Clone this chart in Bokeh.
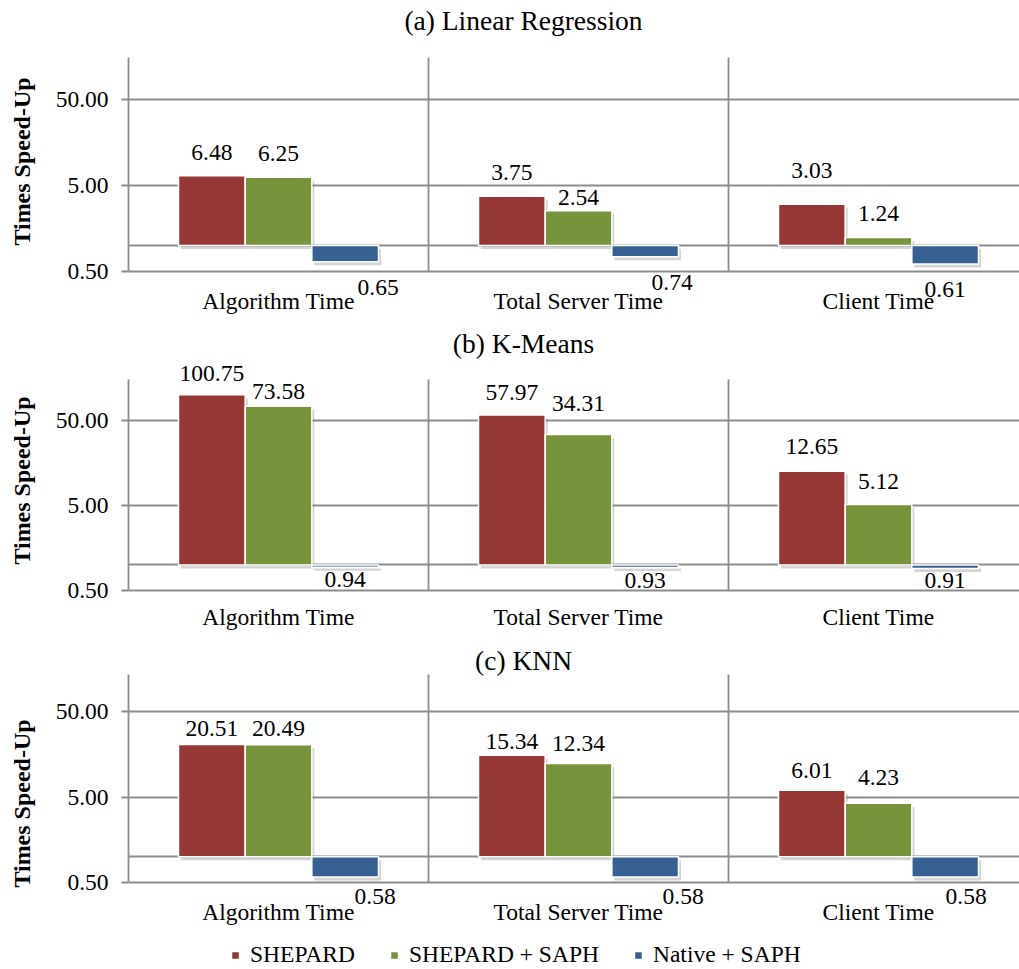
from bokeh.plotting import figure
from bokeh.models import (Range1d, FixedTicker, NumeralTickFormatter, ColumnDataSource,
                          LabelSet, Label, Legend, LegendItem)
from bokeh.layouts import column
from bokeh.core.properties import value
from bokeh.embed import file_html
from bokeh.resources import INLINE

# ---------------- data ----------------
categories = ["Algorithm Time", "Total Server Time", "Client Time"]
series = ["SHEPARD", "SHEPARD + SAPH", "Native + SAPH"]

lr_shepard = [6.48, 3.75, 3.03]
lr_shepard_saph = [6.25, 2.54, 1.24]
lr_native_saph = [0.65, 0.74, 0.61]

km_shepard = [100.75, 57.97, 12.65]
km_shepard_saph = [73.58, 34.31, 5.12]
km_native_saph = [0.94, 0.93, 0.91]

knn_shepard = [20.51, 15.34, 6.01]
knn_shepard_saph = [20.49, 12.34, 4.23]
knn_native_saph = [0.58, 0.58, 0.58]

titles = ["(a) Linear Regression", "(b) K-Means", "(c) KNN"]
y_ticks = [0.5, 5, 50]
y_min = 0.5
baseline = 1.0

# ---------------- style / layout ----------------
colors = ["#953735", "#77933C", "#376092"]
GRID = "#8c8c8c"
FONT = "Liberation Serif"
FS = "23.5px"
FIG_W = 1019
LEFT = 128
FRAME_W = FIG_W - LEFT
CAT_PX = 300.0
x_end = FRAME_W / CAT_PX
bar_w = 2.0 / 9.0
offsets = [-bar_w, 0.0, bar_w]
TITLE_X = 395
DIGIT_HALF = 8  # half the digit height, px


def make_panel(title, vals, fig_top, fig_bottom, area_top, px05, px50,
               title_y, lifts, neg_dx, neg_dy, cat_dy, legend=False):
    n = len(categories)
    H = fig_bottom - fig_top
    D = (px05 - px50) / 2.0                      # pixels per decade
    y_high = y_min * 10 ** ((px05 - fig_top) / D)
    y_low = y_min * 10 ** (-(fig_bottom - px05) / D)
    y_area = y_min * 10 ** ((px05 - area_top) / D)

    p = figure(width=FIG_W, height=H,
               x_range=Range1d(0, x_end), y_range=Range1d(y_low, y_high),
               y_axis_type="log", x_axis_location=None,
               output_backend="svg", toolbar_location=None,
               min_border_left=LEFT, min_border_right=0,
               min_border_top=0, min_border_bottom=0)
    p.outline_line_color = None
    p.background_fill_color = "white"

    # grids
    p.xgrid.visible = False
    p.ygrid.ticker = FixedTicker(ticks=[y_min, baseline] + y_ticks[1:])
    p.ygrid.bounds = (y_low, y_high)
    p.ygrid.grid_line_color = GRID
    p.ygrid.grid_line_width = 1.8

    # category separators, from the bottom line up to the plot-area top
    seps = [float(i) for i in range(1, n)]
    p.segment(x0=seps, x1=seps, y0=[y_min] * len(seps), y1=[y_area] * len(seps),
              line_color=GRID, line_width=1.8)

    # y axis
    ya = p.yaxis[0]
    ya.bounds = (y_min, y_area)
    ya.ticker = FixedTicker(ticks=y_ticks)
    ya.formatter = NumeralTickFormatter(format="0.00")
    ya.axis_line_color = GRID
    ya.axis_line_width = 1.8
    ya.major_tick_line_color = GRID
    ya.major_tick_line_width = 1.8
    ya.major_tick_out = 7
    ya.major_tick_in = 0
    ya.minor_tick_line_color = None
    ya.major_label_text_font = FONT
    ya.major_label_text_font_size = FS
    ya.major_label_text_color = "black"
    ya.major_label_standoff = 13
    ya.axis_label = "Times Speed-Up"
    ya.axis_label_text_font = FONT
    ya.axis_label_text_font_size = "24px"
    ya.axis_label_text_font_style = "bold"
    ya.axis_label_text_color = "black"
    ya.axis_label_standoff = 18

    # category labels under the bottom line
    centers = [i + 0.5 for i in range(n)]
    cat_src = ColumnDataSource(dict(x=centers, y=[y_min] * n, t=categories))
    p.add_layout(LabelSet(x="x", y="y", text="t", source=cat_src,
                          text_align="center", text_baseline="top", y_offset=cat_dy,
                          text_font=value(FONT), text_font_size=value(FS),
                          text_color="black"))

    # bars (with a soft shadow)
    sdx = 2.5 / CAT_PX
    sfy = 10 ** (-3.5 / D)
    for j, v in enumerate(vals):
        xs = [i + 0.5 + offsets[j] for i in range(n)]
        sh = ColumnDataSource(dict(x=[x + sdx for x in xs], top=[t * sfy for t in v],
                                   bottom=[baseline * sfy] * n))
        p.vbar(x="x", top="top", bottom="bottom", width=bar_w, source=sh,
               fill_color="#6f6f6f", fill_alpha=0.3, line_color=None)

    renderers = []
    for j, v in enumerate(vals):
        xs = [i + 0.5 + offsets[j] for i in range(n)]
        src = ColumnDataSource(dict(x=xs, top=v, bottom=[baseline] * n))
        r = p.vbar(x="x", top="top", bottom="bottom", width=bar_w, source=src,
                   fill_color=colors[j], line_color="white", line_width=1.5)
        renderers.append(r)

        up = [k for k in range(n) if v[k] >= baseline]
        dn = [k for k in range(n) if v[k] < baseline]
        if up:
            s_up = ColumnDataSource(dict(x=[xs[k] for k in up], y=[v[k] for k in up],
                                         t=[f"{v[k]:.2f}" for k in up],
                                         dy=[lifts[j][k] - DIGIT_HALF for k in up]))
            p.add_layout(LabelSet(x="x", y="y", text="t", source=s_up,
                                  text_align="center", text_baseline="alphabetic",
                                  y_offset="dy", text_font=value(FONT),
                                  text_font_size=value(FS), text_color="black"))
        if dn:
            s_dn = ColumnDataSource(dict(x=[xs[k] for k in dn], y=[v[k] for k in dn],
                                         t=[f"{v[k]:.2f}" for k in dn],
                                         dx=[neg_dx[k] for k in dn]))
            p.add_layout(LabelSet(x="x", y="y", text="t", source=s_dn,
                                  text_align="center", text_baseline="top",
                                  x_offset="dx", y_offset=neg_dy,
                                  text_font=value(FONT),
                                  text_font_size=value(FS), text_color="black"))

    p.add_layout(Label(x=TITLE_X, y=title_y, x_units="screen", y_units="screen",
                       text=title, text_align="center", text_baseline="middle",
                       text_font=FONT, text_font_size="27.5px", text_color="black"))

    if legend:
        lg = Legend(items=[LegendItem(label=s, renderers=[r]) for s, r in zip(series, renderers)],
                    orientation="horizontal", location=(102, 0),
                    border_line_color=None, background_fill_alpha=0,
                    padding=0, margin=0, spacing=34, label_standoff=10,
                    glyph_width=10, glyph_height=10,
                    label_text_font=FONT, label_text_font_size=FS,
                    label_text_color="black")
        p.add_layout(lg)
    return p


# label lifts (px between bar top and label centre) per series / category
p1 = make_panel(titles[0], [lr_shepard, lr_shepard_saph, lr_native_saph],
                0, 322, 57, 271, 99, 302,
                [[24, 24, 34], [24, 14, 25], [0, 0, 0]], [33, 27, 0], -18, -16)
p2 = make_panel(titles[1], [km_shepard, km_shepard_saph, km_native_saph],
                322, 638, 379, 590, 420, 295,
                [[22, 23, 25], [15, 31, 24], [0, 0, 0]], [0, 0, 0], -5, -13)
p3 = make_panel(titles[2], [knn_shepard, knn_shepard_saph, knn_native_saph],
                638, 968, 674, 882, 711, 308,
                [[17, 14, 20], [17, 20, 26], [0, 0, 0]], [30, 38, 21], -12, -16,
                legend=True)

layout = column(p1, p2, p3, spacing=0)
open("out.html", "w").write(file_html(layout, INLINE))
